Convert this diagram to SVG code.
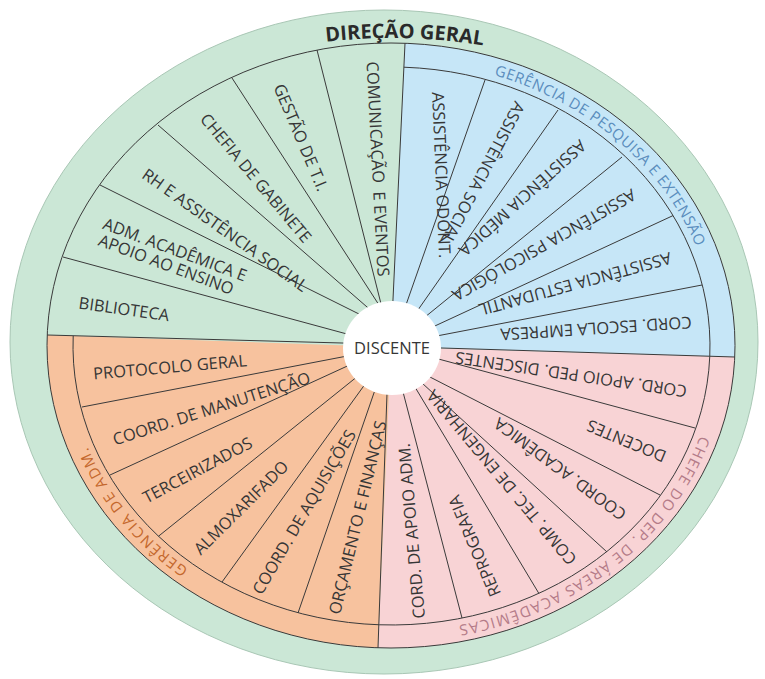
<svg xmlns="http://www.w3.org/2000/svg" width="765" height="679" viewBox="0 0 765 679">
<style>
.seg{font-family:"Open Sans","Liberation Sans",sans-serif;font-size:16.5px;fill:#363636;text-anchor:middle}
.ln{stroke:#3a3a3a;stroke-width:1;fill:none}
.band{font-family:"Open Sans","Liberation Sans",sans-serif;font-size:15px;text-anchor:middle}
.title{font-family:"Open Sans","Liberation Sans",sans-serif;font-size:20px;font-weight:bold;fill:#2a2a2a;text-anchor:middle}
</style>
<defs>
<path id="pTitle" d="M193.8,74.1 A420,308 0 0 1 613.6,84.8"/>
<path id="pBlue" d="M471.8,69.3 A325,285.5 0 0 1 704.4,268.7"/>
<path id="pPink" d="M700.1,435.6 A325,285.5 0 0 1 457.4,625.6"/>
<path id="pOrange" d="M255.4,605.3 A325,285.5 0 0 1 67.9,372.1"/>
</defs>
<rect width="765" height="679" fill="#ffffff"/>
<g id="direcao-geral-ring">
<ellipse cx="384" cy="342" rx="374" ry="332" fill="#cbe7d6" stroke="#a9c7b5" stroke-width="1"/>
<text class="title"><textPath href="#pTitle" startOffset="50%">DIREÇÃO GERAL</textPath></text>
</g>
<g id="quadrants">
<path id="q-green" d="M391,347 L47.2,335 A344,302.5 0 0 1 405,43.25 Z" fill="#cbe7d6"/>
<path id="q-blue" d="M391,347 L405,43.25 A344,302.5 0 0 1 734.75,357 Z" fill="#c6e6f7"/>
<path id="q-pink" d="M391,347 L734.75,357 A344,302.5 0 0 1 378,647.8 Z" fill="#f8d3d5"/>
<path id="q-orange" d="M391,347 L378,647.8 A344,302.5 0 0 1 47.2,335 Z" fill="#f7c29e"/>
</g>
<g id="connectors">
<ellipse class="ln" cx="391" cy="345.5" rx="344" ry="302.5" stroke="#4a4a4a"/>
<path class="ln" d="M403.9,67.2 A318.5,279 0 1 1 73.2,335.9"/>
<line class="ln" x1="405" y1="43.25" x2="392.7" y2="306"/>
<line class="ln" x1="734.75" y1="357" x2="435" y2="347.8"/>
<line class="ln" x1="378" y1="647.8" x2="387.2" y2="388"/>
<line class="ln" x1="47.2" y1="335" x2="349" y2="343.2"/>
<line class="ln" x1="63" y1="257" x2="352.8" y2="335.6"/>
<line class="ln" x1="100" y1="185" x2="362.4" y2="315.7"/>
<line class="ln" x1="158" y1="125" x2="371.5" y2="310.9"/>
<line class="ln" x1="232" y1="78" x2="380.3" y2="307"/>
<line class="ln" x1="317" y1="50" x2="381.5" y2="305.8"/>
<line class="ln" x1="485" y1="80" x2="405" y2="307.7"/>
<line class="ln" x1="558" y1="110" x2="416.6" y2="311.9"/>
<line class="ln" x1="622" y1="157" x2="425.3" y2="316.8"/>
<line class="ln" x1="673" y1="215.6" x2="431.6" y2="327.5"/>
<line class="ln" x1="702" y1="285" x2="436.1" y2="336.1"/>
<line class="ln" x1="695" y1="428" x2="436.2" y2="358.4"/>
<line class="ln" x1="660" y1="495" x2="424.7" y2="374.3"/>
<line class="ln" x1="607" y1="552" x2="417.6" y2="379"/>
<line class="ln" x1="538.8" y1="593.3" x2="411.9" y2="381.9"/>
<line class="ln" x1="462" y1="618" x2="401.5" y2="386.2"/>
<line class="ln" x1="82" y1="407" x2="348.8" y2="355.7"/>
<line class="ln" x1="110" y1="475" x2="353.9" y2="363"/>
<line class="ln" x1="158.4" y1="536.3" x2="359.2" y2="375"/>
<line class="ln" x1="222" y1="582" x2="367.7" y2="380.5"/>
<line class="ln" x1="298" y1="613" x2="377.6" y2="382.4"/>
</g>
<g id="gerencia-pesquisa">
<text class="band" fill="#5a8dbd" letter-spacing="0.5"><textPath href="#pBlue" startOffset="50%">GERÊNCIA DE PESQUISA E EXTENSÃO</textPath></text>
</g>
<g id="chefe-dep">
<text class="band" fill="#b47b88" letter-spacing="1.4"><textPath href="#pPink" startOffset="50%">CHEFE DO DEP. DE ÁREAS ACADÊMICAS</textPath></text>
</g>
<g id="gerencia-adm">
<text class="band" fill="#c4682d" letter-spacing="1.6"><textPath href="#pOrange" startOffset="50%">GERÊNCIA DE ADM.</textPath></text>
</g>
<g id="biblioteca" transform="translate(124,309) rotate(8)"><text class="seg" y="5.9">BIBLIOTECA</text></g>
<g id="adm-academica" transform="translate(172,257.5) rotate(20.5)"><text class="seg" y="-2.6">ADM. ACADÊMICA E</text><text class="seg" x="-3" y="14.4">APOIO AO ENSINO</text></g>
<g id="rh" transform="translate(225,230) rotate(35.5)"><text class="seg" y="5.9">RH E ASSISTÊNCIA SOCIAL</text></g>
<g id="chefia" transform="translate(256,178) rotate(50)"><text class="seg" y="5.9">CHEFIA DE GABINETE</text></g>
<g id="gestao-ti" transform="translate(301,137.5) rotate(67)"><text class="seg" y="5.9">GESTÃO DE T.I.</text></g>
<g id="comunicacao" transform="translate(378,169) rotate(87)"><text class="seg" y="5.9" xml:space="preserve">COMUNICAÇÃO  E EVENTOS</text></g>
<g id="odont" transform="translate(441.5,175) rotate(87.6)"><text class="seg" y="5.9">ASSISTÊNCIA ODONT.</text></g>
<g id="social" transform="translate(483,173) rotate(118)"><text class="seg" y="5.9">ASSISTÊNCIA SOCIAL</text></g>
<g id="medica" transform="translate(522.5,198) rotate(138)"><text class="seg" y="5.9">ASSISTÊNCIA MÉDICA</text></g>
<g id="psicologica" transform="translate(544,245) rotate(150.3)"><text class="seg" y="5.9">ASSISTÊNCIA PSICOLÓGICA</text></g>
<g id="estudantil" transform="translate(575,284) rotate(164.7)"><text class="seg" y="5.9">ASSISTÊNCIA ESTUDANTIL</text></g>
<g id="escola-empresa" transform="translate(596,328.5) rotate(176.3)"><text class="seg" y="5.9">CORD. ESCOLA EMPRESA</text></g>
<g id="apoio-ped" transform="translate(571,374.5) rotate(188.4)"><text class="seg" y="5.9">CORD. APOIO PED. DISCENTES</text></g>
<g id="docentes" transform="translate(626.5,441) rotate(202.6)"><text class="seg" y="5.9">DOCENTES</text></g>
<g id="coord-academica" transform="translate(560,469) rotate(216.6)"><text class="seg" y="5.9">COORD. ACADÊMICA</text></g>
<g id="comp-tec" transform="translate(501.5,477.5) rotate(230)"><text class="seg" y="5.9">COMP. TEC. DE ENGENHARIA</text></g>
<g id="reprografia" transform="translate(474.5,546) rotate(-113)"><text class="seg" y="5.9">REPROGRAFIA</text></g>
<g id="apoio-adm" transform="translate(411.5,531) rotate(-95)"><text class="seg" y="5.9">CORD. DE APOIO ADM.</text></g>
<g id="protocolo" transform="translate(170,367) rotate(-5)"><text class="seg" y="5.9">PROTOCOLO GERAL</text></g>
<g id="manutencao" transform="translate(211.5,408.5) rotate(-17.7)"><text class="seg" y="5.9">COORD. DE MANUTENÇÃO</text></g>
<g id="terceirizados" transform="translate(197.5,470) rotate(-28.1)"><text class="seg" y="5.9">TERCEIRIZADOS</text></g>
<g id="almoxarifado" transform="translate(241,507.5) rotate(-44.7)"><text class="seg" y="5.9">ALMOXARIFADO</text></g>
<g id="aquisicoes" transform="translate(304,512) rotate(-59.6)"><text class="seg" y="5.9">COORD. DE AQUISIÇÕES</text></g>
<g id="orcamento" transform="translate(357.5,517.5) rotate(-76.4)"><text class="seg" y="5.9">ORÇAMENTO E FINANÇAS</text></g>
<g id="discente">
<ellipse cx="392" cy="348" rx="49" ry="47" fill="#ffffff"/>
<text class="seg" x="392" y="354">DISCENTE</text>
</g>
</svg>
